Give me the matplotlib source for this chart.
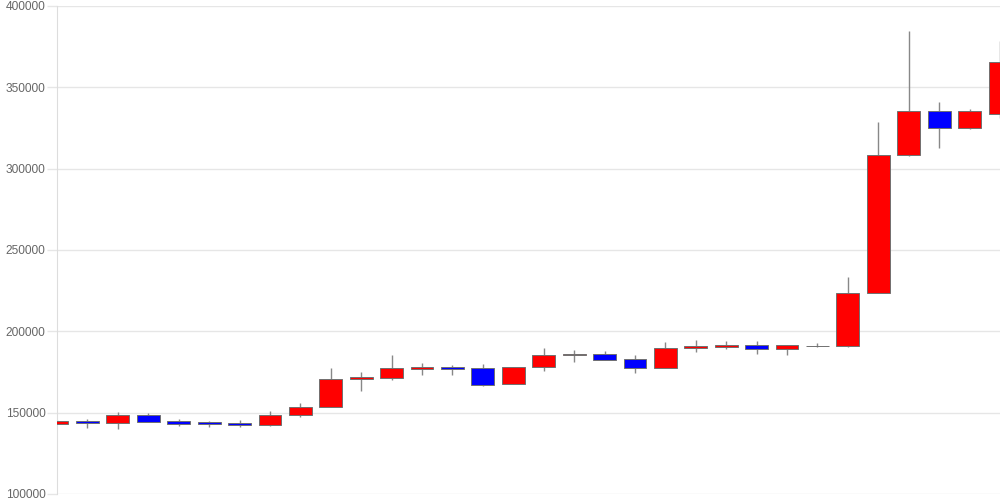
import numpy as np
import matplotlib.pyplot as plt

# daily candles
opens = [143100, 144900, 143500, 148800, 144900, 144000, 143700, 142400,
         148750, 153500, 170500, 171500, 177000, 178000, 177300, 167600,
         178100, 185500, 186300, 182800, 177500, 189600, 190600, 191800,
         189150, 191200, 191200, 223400, 308600, 335260, 325000, 333800]
closes = [144900, 143400, 148800, 144300, 143300, 142800, 142400, 148800,
          153700, 170700, 171700, 177300, 178000, 177000, 167200, 178000,
          185500, 186300, 182600, 177600, 189800, 190800, 191800, 189150,
          191400, 191200, 223570, 308600, 335260, 325000, 335260, 365400]
highs = [145400, 146000, 150600, 150000, 145900, 145100, 145300, 151000,
         156100, 177450, 174800, 185500, 180300, 179300, 180100, 178200,
         189600, 188400, 187900, 185300, 193400, 194800, 193900, 194050,
         191600, 192650, 233200, 328700, 384400, 340980, 336500, 378500]
lows = [142800, 140800, 140200, 144200, 141900, 141400, 141000, 142000,
        147150, 153500, 163100, 170100, 173300, 172960, 166600, 167400,
        175600, 180900, 182200, 174200, 177400, 187000, 189300, 186250,
        185700, 190200, 190200, 223400, 308000, 312500, 324200, 331300]

y_ticks = [100000, 150000, 200000, 250000, 300000, 350000, 400000]

x = np.arange(len(opens))
opens = np.array(opens)
closes = np.array(closes)
colors = np.where(closes > opens, "#ff0000", "#0000ff")
colors = np.where(closes == opens, "#888888", colors)

plt.rcParams["font.family"] = ["Liberation Sans", "DejaVu Sans"]

fig = plt.figure(figsize=(10, 5), dpi=100)
ax = fig.add_axes([0.057, 0.012, 0.943, 0.976])

ax.vlines(x, lows, highs, color="#888888", linewidth=1, zorder=2)
ax.bar(x, np.abs(closes - opens), bottom=np.minimum(opens, closes),
       width=0.75, color=colors, edgecolor="#707070", linewidth=0.7, zorder=3)

ax.set_xlim(0, len(opens) - 1)
ax.set_ylim(100000, 400000)
ax.set_yticks(y_ticks)
ax.set_yticklabels([str(v) for v in y_ticks])
ax.set_xticks([])
ax.grid(axis="y", color="#e6e6e6", linewidth=1, zorder=0)
ax.set_axisbelow(True)
ax.tick_params(axis="y", length=7.5, width=1, color="#e6e6e6",
               labelsize=8.6, labelcolor="#666666", pad=0.7)
for s in ["top", "right", "bottom"]:
    ax.spines[s].set_visible(False)
ax.spines["left"].set_color("#dddddd")

fig.savefig("out.png", dpi=100)
